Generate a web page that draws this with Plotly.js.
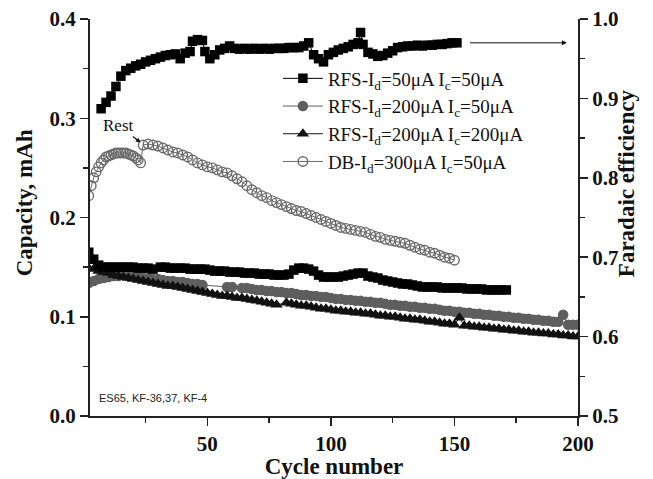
<!DOCTYPE html>
<html>
<head>
<meta charset="utf-8">
<script src="https://cdn.plot.ly/plotly-3.0.1.min.js"></script>
<style>html,body{margin:0;padding:0;background:#fff;}</style>
</head>
<body>
<div id="chart" style="width:653px;height:479px;"></div>
<script>
// ---- data ----
const seriesNames = [
  "RFS-I<sub>d</sub>=50μA I<sub>c</sub>=50μA",
  "RFS-I<sub>d</sub>=200μA I<sub>c</sub>=50μA",
  "RFS-I<sub>d</sub>=200μA I<sub>c</sub>=200μA",
  "DB-I<sub>d</sub>=300μA I<sub>c</sub>=50μA"
];

const rfs5050X = [2,4,6,8,10,12,14,16,18,20,22,24,26,28,
  31,33,35,37,39,41,43,45,47,49,51,53,55,57,59,61,63,65,67,69,71,73,75,77,79,81,83,85,87,89,
  91,93,95,97,99,101,103,105,107,109,111,113,115,117,119,121,123,125,127,129,131,133,135,137,139,
  141,143,145,147,149,151,153,155,157,159,161,163,165,167,169,171];
const rfs5050Cap = [0.165,0.158,0.152,0.150,0.150,0.150,0.150,0.150,0.150,0.150,0.149,0.149,0.149,0.148,
  0.150,0.150,0.149,0.149,0.149,0.149,0.148,0.148,0.148,0.148,
  0.147,0.146,0.146,0.146,0.145,0.145,0.145,0.144,0.144,0.144,
  0.143,0.143,0.143,0.142,0.142,0.142,0.143,0.147,0.149,0.149,
  0.148,0.146,0.142,0.140,0.140,0.140,0.140,0.141,0.142,0.143,
  0.144,0.144,0.141,0.140,0.139,0.137,0.136,0.135,0.134,0.133,
  0.133,0.132,0.131,0.130,0.130,0.130,0.130,0.129,0.129,0.129,
  0.129,0.129,0.128,0.128,0.128,0.128,0.127,0.127,0.127,0.127,0.127];

const rfs20050X = [2,4,6,8,10,12,14,16,18,20,22,24,26,28,30,32,34,36,38,40,42,44,46,48,
  58,60,
  64,66,68,70,72,74,76,78,80,82,84,86,88,90,92,94,96,98,100,102,104,106,108,110,112,114,116,118,120,122,
  124,126,128,130,132,134,136,138,140,142,144,146,148,150,152,154,156,158,160,162,164,166,168,170,172,
  174,176,178,180,182,184,186,188,190,192,
  194,196,198,200];
const rfs20050Cap = [0.134,0.136,0.138,0.139,0.140,0.141,0.141,0.142,0.141,0.141,0.140,0.139,0.139,0.138,
  0.138,0.137,0.136,0.136,0.135,0.135,0.134,0.133,0.133,0.132,
  0.130,0.130,
  0.129,0.129,0.128,0.127,0.127,0.126,0.126,0.125,0.125,0.124,
  0.124,0.123,0.122,0.122,0.121,0.121,0.120,0.120,0.119,0.118,
  0.118,0.117,0.117,0.116,0.116,0.115,0.115,0.114,0.114,0.113,
  0.112,0.112,0.111,0.111,0.110,0.110,0.109,0.109,0.108,0.108,
  0.107,0.106,0.106,0.105,0.105,0.104,0.104,0.103,0.103,0.102,
  0.102,0.101,0.101,0.100,0.100,0.099,0.099,0.098,0.098,0.097,
  0.097,0.096,0.096,0.095,0.095,
  0.102,0.092,0.092,0.092];

const rfs200200X = [2,4,6,8,10,12,14,16,18,20,22,24,26,28,30,32,34,36,38,40,42,44,46,48,50,52,54,56,58,60,
  62,64,66,68,70,72,74,76,78,
  82,84,86,88,90,92,94,96,98,100,102,104,106,108,110,112,114,116,118,120,122,124,126,128,130,
  132,134,136,138,140,142,144,146,148,150,152,154,156,158,160,162,164,166,168,170,172,174,176,178,180,
  182,184,186,188,190,192,194,196,198,200];
const rfs200200Cap = [0.149,0.148,0.146,0.145,0.144,0.142,0.141,0.140,0.139,0.138,
  0.137,0.136,0.135,0.134,0.133,0.132,0.131,0.131,0.130,0.129,
  0.128,0.127,0.126,0.125,0.124,0.123,0.122,0.121,0.121,0.120,
  0.119,0.119,0.118,0.117,0.116,0.115,0.114,0.113,0.112,
  0.114,0.113,0.112,0.111,0.111,0.110,0.109,0.108,0.108,0.107,
  0.106,0.106,0.105,0.105,0.104,0.104,0.103,0.103,0.102,0.101,
  0.101,0.100,0.100,0.099,0.098,0.098,0.097,0.097,0.096,0.095,
  0.095,0.094,0.093,0.093,0.092,0.099,0.091,0.091,0.090,0.090,
  0.089,0.089,0.088,0.088,0.087,0.087,0.086,0.086,0.085,0.085,
  0.084,0.084,0.083,0.083,0.082,0.082,0.081,0.081,0.080,0.080];

const dbX = [2,3,4,5,6,7,8,9,10,11,12,13,14,15,16,17,18,19,20,21,22,23,
  24,26,28,30,32,34,36,38,40,42,44,46,48,50,52,54,56,58,60,62,64,66,68,70,72,74,76,78,80,82,
  84,86,88,90,92,94,96,98,100,102,104,106,108,110,112,114,116,118,120,122,124,126,128,130,
  132,134,136,138,140,142,144,146,148,150];
const dbCap = [0.222,0.232,0.240,0.246,0.251,0.255,0.258,0.261,0.262,0.263,0.264,0.265,0.265,0.265,
  0.265,0.265,0.264,0.263,0.262,0.260,0.258,0.255,
  0.273,0.274,0.273,0.272,0.270,0.268,0.266,0.265,0.263,0.261,
  0.258,0.255,0.253,0.251,0.250,0.248,0.246,0.245,0.242,0.239,
  0.236,0.232,0.228,0.225,0.222,0.220,0.217,0.215,0.213,0.211,
  0.209,0.207,0.206,0.204,0.202,0.200,0.198,0.196,0.194,0.192,
  0.190,0.189,0.188,0.187,0.186,0.185,0.183,0.181,0.180,0.178,
  0.177,0.176,0.175,0.174,0.172,0.170,0.168,0.167,0.165,0.164,
  0.162,0.160,0.159,0.157];

const effX = [7,9,11,13,15,17,19,21,23,25,27,29,31,33,35,37,39,41,43,44,46,48,49,51,53,55,57,59,61,63,
  65,67,69,71,73,75,77,79,81,83,85,87,89,91,93,95,97,99,101,103,105,107,109,111,112,113,115,117,119,121,
  123,125,127,129,131,133,135,137,139,141,143,145,147,149,151];
const effVal = [0.887,0.895,0.903,0.915,0.928,0.935,0.938,0.941,0.943,0.946,0.948,0.950,0.952,0.954,0.955,
  0.956,0.950,0.957,0.959,0.972,0.974,0.973,0.959,0.950,0.955,0.961,0.963,0.966,0.963,0.962,
  0.963,0.962,0.963,0.962,0.963,0.962,0.963,0.963,0.963,0.964,0.964,0.964,0.966,0.970,0.955,
  0.950,0.946,0.955,0.958,0.961,0.963,0.965,0.968,0.970,0.983,0.968,0.958,0.956,0.953,0.954,
  0.957,0.960,0.964,0.965,0.966,0.966,0.967,0.966,0.967,0.967,0.968,0.968,0.969,0.970,0.970];

const xTitle = "Cycle number";
const yTitle = "Capacity, mAh";
const y2Title = "Faradaic efficiency";
const noteText = "ES65, KF-36,37, KF-4";
const restText = "Rest";

// ---- styling ----
const serif = "Liberation Serif, Times New Roman, serif";
const axisCol = "#222";

const traces = [
  {x: rfs20050X, y: rfs20050Cap, name: seriesNames[1], legendrank: 2, legendgroup: "b",
   mode: "lines+markers", line: {color: "#5e5e5e", width: 1},
   marker: {symbol: "circle", size: 10.5, color: "#5e5e5e"}},
  {x: rfs200200X, y: rfs200200Cap, name: seriesNames[2], legendrank: 3, legendgroup: "c",
   mode: "lines+markers", line: {color: "#111", width: 1},
   marker: {symbol: "triangle-up", size: 11, color: "#111"}},
  {x: rfs5050X, y: rfs5050Cap, name: seriesNames[0], legendrank: 1, legendgroup: "a",
   mode: "lines+markers", line: {color: "#000", width: 1},
   marker: {symbol: "square", size: 9.5, color: "#000"}},
  {x: dbX, y: dbCap, name: seriesNames[3], legendrank: 4, legendgroup: "d",
   mode: "lines+markers", line: {color: "#6a6a6a", width: 1},
   marker: {symbol: "circle-open", size: 9.5, color: "#6a6a6a", line: {width: 1.4, color: "#6a6a6a"}}},
  {x: effX, y: effVal, name: "eff", yaxis: "y2", showlegend: false,
   mode: "lines+markers", line: {color: "#000", width: 1},
   marker: {symbol: "square", size: 9.5, color: "#000"}}
];

const tickFont = {family: serif, size: 21, weight: "bold", color: "#111"};
const titleFont = {family: serif, size: 23, weight: "bold", color: "#111"};
const minorCommon = {ticks: "outside", ticklen: 5, tickwidth: 1.5, tickcolor: axisCol, showgrid: false};

const layout = {
  width: 653, height: 479,
  margin: {l: 90, r: 75, t: 19, b: 63},
  paper_bgcolor: "#fff", plot_bgcolor: "#fff",
  showlegend: true,
  legend: {x: 0.385, y: 0.898, xanchor: "left", yanchor: "top",
           font: {family: serif, size: 19, color: "#111"}, bgcolor: "rgba(0,0,0,0)",
           itemwidth: 40, tracegroupgap: 5, traceorder: "normal"},
  xaxis: {range: [2.5, 200], tick0: 0, dtick: 50, ticks: "outside", ticklen: 8, tickwidth: 1.5,
          tickcolor: axisCol, showline: true, linewidth: 2, linecolor: axisCol, showgrid: false,
          zeroline: false, tickfont: tickFont,
          minor: Object.assign({dtick: 25, tick0: 0}, minorCommon),
          title: {text: xTitle, font: titleFont, standoff: 6}},
  yaxis: {range: [0, 0.4], tick0: 0, dtick: 0.1, tickformat: ".1f", ticks: "outside", ticklen: 8,
          tickwidth: 1.5, tickcolor: axisCol, showline: true, linewidth: 2, linecolor: axisCol,
          showgrid: false, zeroline: false, tickfont: tickFont,
          minor: Object.assign({dtick: 0.05, tick0: 0}, minorCommon)},
  yaxis2: {range: [0.5, 1.0], tick0: 0.5, dtick: 0.1, tickformat: ".1f", overlaying: "y", side: "right",
           ticks: "outside", ticklen: 8, tickwidth: 1.5, tickcolor: axisCol, showline: true,
           linewidth: 2, linecolor: axisCol, showgrid: false, zeroline: false, tickfont: tickFont,
           minor: Object.assign({dtick: 0.05, tick0: 0.5}, minorCommon)},
  annotations: [
    {text: yTitle, xref: "paper", yref: "paper", x: -0.135, y: 0.536, textangle: -90,
     showarrow: false, xanchor: "center", yanchor: "middle", font: titleFont},
    {text: y2Title, xref: "paper", yref: "paper", x: 1.1, y: 0.586, textangle: -90,
     showarrow: false, xanchor: "center", yanchor: "middle", font: titleFont},
    {text: "", x: 195.5, y: 0.970, xref: "x", yref: "y2", ax: 155.7, ay: 0.970,
     axref: "x", ayref: "y2", showarrow: true, arrowhead: 2, arrowsize: 1, arrowwidth: 1,
     arrowcolor: "#111"},
    {text: restText, x: 23, y: 0.2755, xref: "x", yref: "y", ax: -22, ay: -17,
     showarrow: true, arrowhead: 2, arrowsize: 0.8, arrowwidth: 1.2, arrowcolor: "#111",
     font: {family: serif, size: 17, color: "#111"}},
    {text: noteText, xref: "paper", yref: "paper", x: 0.014, y: 0.045, xanchor: "left",
     yanchor: "middle", showarrow: false,
     font: {family: "Liberation Sans, Arial, sans-serif", size: 11, color: "#222"}}
  ]
};

Plotly.newPlot("chart", traces, layout, {displayModeBar: false, staticPlot: true});
</script>
</body>
</html>
